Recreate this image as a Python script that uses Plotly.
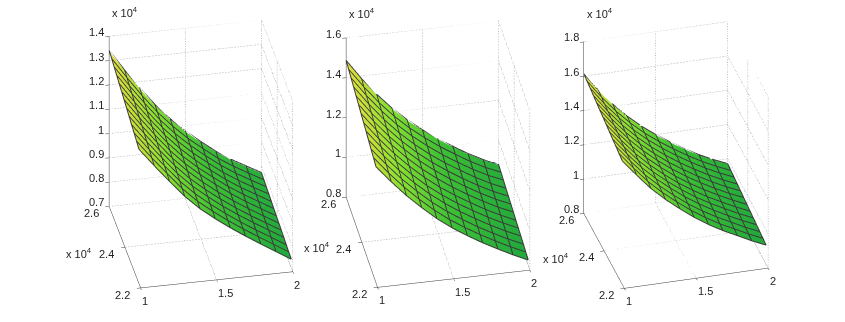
import plotly.graph_objects as go

x_vals = [1, 1.1, 1.2, 1.3, 1.4, 1.5, 1.6, 1.7, 1.8, 1.9, 2]
y_vals = [2.22, 2.252, 2.283, 2.315, 2.347, 2.378, 2.41, 2.442, 2.473, 2.505, 2.537, 2.568, 2.6]

z_left = [
    [1.250, 1.176, 1.105, 1.037, 0.980, 0.932, 0.888, 0.847, 0.808, 0.770, 0.732],
    [1.257, 1.182, 1.111, 1.042, 0.984, 0.936, 0.891, 0.850, 0.811, 0.773, 0.735],
    [1.265, 1.189, 1.116, 1.047, 0.989, 0.939, 0.894, 0.852, 0.813, 0.776, 0.738],
    [1.272, 1.195, 1.122, 1.052, 0.993, 0.943, 0.897, 0.855, 0.816, 0.779, 0.742],
    [1.280, 1.202, 1.127, 1.057, 0.997, 0.946, 0.900, 0.857, 0.818, 0.781, 0.745],
    [1.287, 1.208, 1.133, 1.062, 1.002, 0.950, 0.903, 0.860, 0.821, 0.784, 0.748],
    [1.295, 1.215, 1.139, 1.067, 1.006, 0.954, 0.907, 0.863, 0.823, 0.787, 0.751],
    [1.302, 1.221, 1.144, 1.072, 1.010, 0.957, 0.910, 0.865, 0.826, 0.790, 0.754],
    [1.309, 1.227, 1.150, 1.077, 1.015, 0.961, 0.913, 0.868, 0.828, 0.793, 0.757],
    [1.317, 1.234, 1.155, 1.082, 1.019, 0.964, 0.916, 0.870, 0.831, 0.795, 0.761],
    [1.324, 1.240, 1.161, 1.087, 1.023, 0.968, 0.919, 0.873, 0.833, 0.798, 0.764],
    [1.332, 1.247, 1.166, 1.092, 1.028, 0.971, 0.922, 0.875, 0.836, 0.801, 0.767],
    [1.339, 1.253, 1.172, 1.097, 1.032, 0.975, 0.925, 0.878, 0.838, 0.804, 0.770],
]
z_mid = [
    [1.380, 1.296, 1.218, 1.149, 1.085, 1.030, 0.982, 0.938, 0.898, 0.860, 0.825],
    [1.389, 1.303, 1.225, 1.155, 1.091, 1.035, 0.987, 0.943, 0.902, 0.864, 0.829],
    [1.397, 1.311, 1.231, 1.161, 1.096, 1.041, 0.992, 0.947, 0.906, 0.868, 0.834],
    [1.406, 1.318, 1.238, 1.166, 1.102, 1.046, 0.996, 0.952, 0.910, 0.872, 0.838],
    [1.415, 1.326, 1.244, 1.172, 1.107, 1.051, 1.001, 0.956, 0.914, 0.876, 0.842],
    [1.423, 1.333, 1.251, 1.178, 1.113, 1.056, 1.006, 0.961, 0.918, 0.880, 0.846],
    [1.432, 1.341, 1.258, 1.184, 1.119, 1.062, 1.011, 0.965, 0.923, 0.884, 0.851],
    [1.441, 1.348, 1.264, 1.190, 1.124, 1.067, 1.016, 0.970, 0.927, 0.888, 0.855],
    [1.449, 1.355, 1.271, 1.196, 1.130, 1.072, 1.021, 0.974, 0.931, 0.892, 0.859],
    [1.458, 1.363, 1.277, 1.201, 1.135, 1.077, 1.025, 0.979, 0.935, 0.896, 0.863],
    [1.467, 1.370, 1.284, 1.207, 1.141, 1.083, 1.030, 0.983, 0.939, 0.900, 0.868],
    [1.475, 1.378, 1.290, 1.213, 1.146, 1.088, 1.035, 0.988, 0.943, 0.904, 0.872],
    [1.484, 1.385, 1.297, 1.219, 1.152, 1.093, 1.040, 0.992, 0.947, 0.908, 0.876],
]
z_right = [
    [1.518, 1.423, 1.333, 1.258, 1.192, 1.130, 1.076, 1.029, 0.988, 0.946, 0.909],
    [1.526, 1.430, 1.340, 1.264, 1.198, 1.136, 1.082, 1.034, 0.993, 0.951, 0.914],
    [1.534, 1.437, 1.346, 1.270, 1.203, 1.141, 1.087, 1.040, 0.998, 0.956, 0.919],
    [1.541, 1.443, 1.353, 1.276, 1.209, 1.147, 1.093, 1.045, 1.002, 0.961, 0.924],
    [1.549, 1.450, 1.359, 1.282, 1.214, 1.153, 1.098, 1.050, 1.007, 0.966, 0.929],
    [1.557, 1.457, 1.366, 1.288, 1.220, 1.158, 1.104, 1.055, 1.012, 0.971, 0.934],
    [1.565, 1.464, 1.373, 1.294, 1.226, 1.164, 1.110, 1.061, 1.017, 0.976, 0.939],
    [1.572, 1.471, 1.379, 1.300, 1.231, 1.170, 1.115, 1.066, 1.021, 0.980, 0.944],
    [1.580, 1.478, 1.386, 1.306, 1.237, 1.175, 1.121, 1.071, 1.026, 0.985, 0.949],
    [1.588, 1.484, 1.392, 1.312, 1.242, 1.181, 1.126, 1.076, 1.031, 0.990, 0.954],
    [1.596, 1.491, 1.399, 1.318, 1.248, 1.187, 1.132, 1.082, 1.036, 0.995, 0.959],
    [1.603, 1.498, 1.405, 1.324, 1.253, 1.192, 1.137, 1.087, 1.040, 1.000, 0.964],
    [1.611, 1.505, 1.412, 1.330, 1.259, 1.198, 1.143, 1.092, 1.045, 1.005, 0.969],
]

x_ticks = [1, 1.5, 2]
y_ticks = [2.2, 2.4, 2.6]
z_ticks_left = [0.7, 0.8, 0.9, 1, 1.1, 1.2, 1.3, 1.4]
z_ticks_mid = [0.8, 1, 1.2, 1.4, 1.6]
z_ticks_right = [0.8, 1, 1.2, 1.4, 1.6, 1.8]

greens = [[0, "#22a83c"], [0.3, "#3cc034"], [0.6, "#84e030"], [1, "#e6e03c"]]
ink = "#3a3a3a"
W, H = 845, 322
label_font = dict(family="Liberation Sans", size=11, color="#222222")

fig = go.Figure()


def dotted(scene, xs, ys, zs):
    fig.add_trace(go.Scatter3d(x=xs, y=ys, z=zs, mode="lines", scene=scene, showlegend=False,
                               hoverinfo="skip", line=dict(color="#777777", width=1, dash="dot")))


def tick_label(x, y, z, text, xanchor, dx, dy):
    return dict(x=x, y=y, z=z, text=text, showarrow=False, xanchor=xanchor, yanchor="middle",
                xshift=dx, yshift=dy, font=label_font)


def mesh(scene, z):
    # dark facet edges, lifted a hair so the surface does not swallow them
    lift = 0.003
    xs, ys, zs = [], [], []
    for j, yv in enumerate(y_vals):
        xs += x_vals + [None]
        ys += [yv] * len(x_vals) + [None]
        zs += [v + lift for v in z[j]] + [None]
    for i, xv in enumerate(x_vals):
        xs += [xv] * len(y_vals) + [None]
        ys += y_vals + [None]
        zs += [row[i] + lift for row in z] + [None]
    fig.add_trace(go.Scatter3d(x=xs, y=ys, z=zs, mode="lines", scene=scene, showlegend=False,
                               hoverinfo="skip", line=dict(color=ink, width=2)))


def panel(scene, z, z_ticks, eye, aspect, centre):
    fig.add_trace(go.Surface(x=x_vals, y=y_vals, z=z, scene=scene, colorscale=greens, showscale=False,
                             hoverinfo="skip",
                             lighting=dict(ambient=1, diffuse=0, specular=0, fresnel=0)))
    mesh(scene, z)
    # grid on the back walls and the floor
    for zt in z_ticks:
        dotted(scene, [1, 2, 2], [2.6, 2.6, 2.2], [zt, zt, zt])
    for xt in x_ticks[1:]:
        dotted(scene, [xt, xt, xt], [2.2, 2.6, 2.6], [z_ticks[0], z_ticks[0], z_ticks[-1]])
    for yt in y_ticks[:-1]:
        dotted(scene, [1, 2, 2], [yt, yt, yt], [z_ticks[0], z_ticks[0], z_ticks[-1]])

    labels = [tick_label(1, 2.6, t, f"{t:g}", "right", -3, 4) for t in z_ticks]
    labels += [tick_label(1, t, z_ticks[0], f"{t:g}", "right", -8, -7) for t in y_ticks]
    labels += [tick_label(t, 2.2, z_ticks[0], f"{t:g}", "left", 0, -13) for t in x_ticks]

    axis = dict(showbackground=False, showgrid=False, zeroline=False, showline=True, linecolor=ink, linewidth=1,
                ticks="inside", ticklen=4, tickcolor=ink, title="", showspikes=False, showticklabels=False)
    cx, cy = centre
    fig.update_layout({scene: dict(
        domain=dict(x=[(cx - 115) / W, (cx + 115) / W], y=[1 - (cy + 150) / H, 1 - (cy - 150) / H]),
        camera=dict(eye=dict(x=eye[0], y=eye[1], z=eye[2]), up=dict(x=0, y=0, z=1),
                    center=dict(x=0, y=0, z=0), projection=dict(type="orthographic")),
        aspectmode="manual", aspectratio=dict(x=aspect[0], y=aspect[1], z=aspect[2]),
        xaxis=dict(axis, range=[1, 2], tickvals=x_ticks),
        yaxis=dict(axis, range=[2.2, 2.6], tickvals=y_ticks),
        zaxis=dict(axis, range=[z_ticks[0], z_ticks[-1]], tickvals=z_ticks),
        annotations=labels,
    )})


BOX = 1.333 / 197
panel("scene", z_left, z_ticks_left, [-0.169, -0.834, 0.525], [153 * BOX, 156 * BOX, 197 * BOX], (200.5, 154))
panel("scene2", z_mid, z_ticks_mid, [-0.160, -0.806, 0.570], [153 * BOX, 159 * BOX, 191 * BOX], (437.5, 154))
panel("scene3", z_right, z_ticks_right, [-0.229, -0.829, 0.511], [147 * BOX, 150 * BOX, 196.5 * BOX], (676, 154.5))

mult_x = [110, 347, 585, 64, 302, 541]
mult_y = [12, 13, 13, 253, 247, 258]
for mx, my in zip(mult_x, mult_y):
    fig.add_annotation(x=mx / W, y=1 - my / H, xref="paper", yref="paper", xanchor="left", yanchor="middle",
                       text="x 10<sup>4</sup>", showarrow=False, font=label_font)

fig.update_layout(width=W, height=H, margin=dict(l=0, r=0, t=0, b=0), paper_bgcolor="white", showlegend=False)
fig.write_html("out.html", post_script="document.body.style.margin='0';", config={"displayModeBar": False})
